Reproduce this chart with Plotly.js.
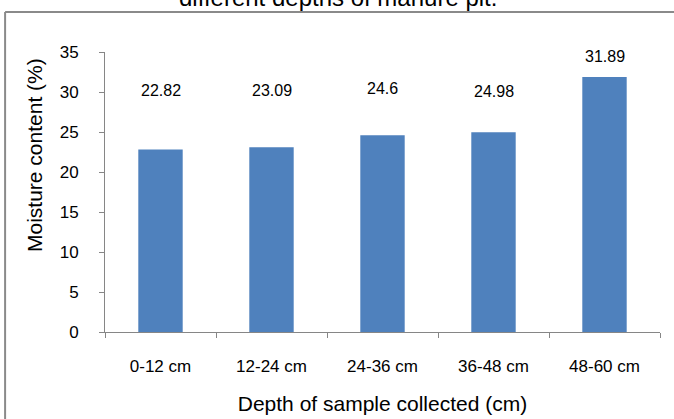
<!DOCTYPE html>
<html>
<head>
<meta charset="utf-8">
<script src="https://cdn.plot.ly/plotly-3.0.1.min.js"></script>
<style>html,body{margin:0;padding:0;background:#fff;}#chart{width:674px;height:419px;}</style>
</head>
<body>
<div id="chart"></div>
<script>
const categories = ["0-12 cm", "12-24 cm", "24-36 cm", "36-48 cm", "48-60 cm"];
const moisture = [22.82, 23.09, 24.6, 24.98, 31.89];
const labelText = ["22.82", "23.09", "24.6", "24.98", "31.89"];
const labelY = [30.2, 30.2, 30.4, 30.1, 34.5];
const yTicks = [0, 5, 10, 15, 20, 25, 30, 35];

const font = "Liberation Sans, Arial, sans-serif";
const annotations = categories.map((c, i) => ({
  x: c, y: labelY[i], xref: "x", yref: "y", text: labelText[i],
  showarrow: false, font: {family: font, size: 16, color: "#000"}
}));
annotations.push({
  x: 0.419, y: 1.139, xref: "paper", yref: "paper", yanchor: "bottom",
  text: "different depths of manure pit.", showarrow: false,
  font: {family: font, size: 24, color: "#000"}
});
annotations.push({
  x: -0.128, y: 0.632, xref: "paper", yref: "paper", xanchor: "center", yanchor: "middle",
  text: "Moisture content (%)", textangle: -90, showarrow: false,
  font: {family: font, size: 21, color: "#000"}
});

Plotly.newPlot("chart", [{
  type: "bar", x: categories, y: moisture,
  marker: {color: "#4f81bd"}, hoverinfo: "none"
}], {
  width: 674, height: 419,
  margin: {l: 105, r: 14, t: 52, b: 87},
  paper_bgcolor: "#fff", plot_bgcolor: "#fff",
  bargap: 0.6,
  showlegend: false,
  xaxis: {
    showline: true, linecolor: "#868686", linewidth: 1,
    ticks: "outside", ticklen: 5, tickcolor: "#868686", tickson: "boundaries",
    ticklabelstandoff: 19,
    tickfont: {family: font, size: 17, color: "#000"},
    title: {text: "Depth of sample collected (cm)", font: {family: font, size: 21, color: "#000"}, standoff: 20},
    fixedrange: true
  },
  yaxis: {
    range: [0, 35], tickvals: yTicks, showgrid: false, zeroline: false,
    showline: true, linecolor: "#868686", linewidth: 1,
    ticks: "outside", ticklen: 5, tickcolor: "#868686",
    ticklabelstandoff: 17,
    tickfont: {family: font, size: 17, color: "#000"},
    fixedrange: true
  },
  annotations: annotations,
  shapes: [
    {type: "line", xref: "paper", yref: "paper", x0: -0.18, x1: 1.05, y0: 1.143, y1: 1.143, line: {color: "#8a8a8a", width: 2}},
    {type: "line", xref: "paper", yref: "paper", x0: -0.18, x1: -0.18, y0: 1.143, y1: -0.35, line: {color: "#8a8a8a", width: 2}}
  ]
}, {displayModeBar: false, staticPlot: true});
</script>
</body>
</html>
